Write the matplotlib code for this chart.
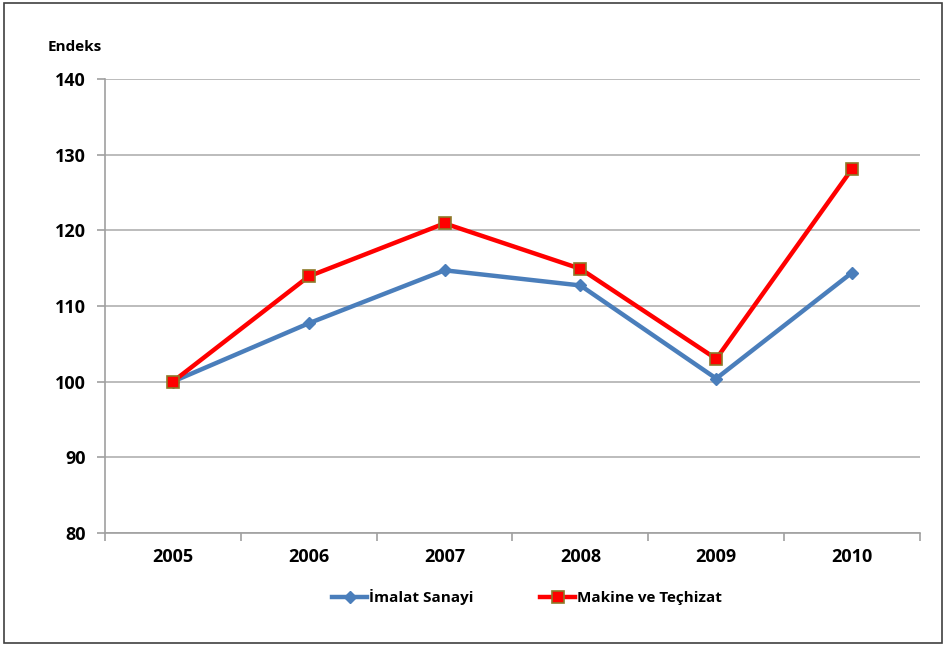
import matplotlib.pyplot as plt
from matplotlib.patches import Rectangle

years = ["2005", "2006", "2007", "2008", "2009", "2010"]
imalat = [100.0, 107.7, 114.7, 112.7, 100.4, 114.4]
makine = [100.0, 113.9, 120.9, 114.9, 103.0, 128.1]
y_ticks = [80, 90, 100, 110, 120, 130, 140]


def main():
    plt.rcParams['font.family'] = ['Open Sans', 'DejaVu Sans']
    fig = plt.figure(figsize=(9.46, 6.46), dpi=100)
    ax = fig.add_axes([0.111, 0.175, 0.8615, 0.703])

    x = range(len(years))
    ax.plot(x, imalat, color="#4A7EBB", lw=3.2, marker="D", ms=6.5,
            mfc="#4A7EBB", mec="#4A7EBB", label="İmalat Sanayi", zorder=3)
    ax.plot(x, makine, color="#FF0000", lw=3.2, marker="s", ms=9,
            mfc="#FF0000", mec="#8C7A2A", mew=1.2, label="Makine ve Teçhizat", zorder=4)

    ax.set_xlim(-0.5, len(years) - 0.5)
    ax.set_ylim(80, 140)
    ax.set_yticks(y_ticks)
    ax.set_yticklabels([str(v) for v in y_ticks], fontsize=13, fontweight="bold")
    ax.set_xticks(list(x))
    ax.set_xticklabels(years, fontsize=13, fontweight="bold")
    ax.tick_params(axis="x", length=0, pad=11)
    ax.set_xticks([i - 0.5 for i in range(len(years) + 1)], minor=True)
    ax.tick_params(axis="x", which="minor", length=6, color="#A0A0A0", width=1.2)
    ax.tick_params(axis="y", length=6, color="#A0A0A0", width=1.2, pad=8)

    ax.grid(axis="y", color="#B0B0B0", lw=1.2)
    ax.set_axisbelow(True)
    for s in ["top", "right"]:
        ax.spines[s].set_visible(False)
    for s in ["left", "bottom"]:
        ax.spines[s].set_color("#A0A0A0")
        ax.spines[s].set_linewidth(1.2)

    fig.text(0.05, 0.928, "Endeks", fontsize=11, fontweight="bold", va="center")

    fig.legend(loc="center", bbox_to_anchor=(0.557, 0.076), ncol=2, frameon=False,
               prop={"size": 11, "weight": "bold"}, handlelength=2.3,
               handletextpad=0.1, columnspacing=4.35)

    fig.add_artist(Rectangle((0.004, 0.005), 0.992, 0.99, transform=fig.transFigure,
                             fill=False, edgecolor="#404040", lw=1.2))
    fig.savefig("out.png", dpi=100)


if __name__ == "__main__":
    main()
